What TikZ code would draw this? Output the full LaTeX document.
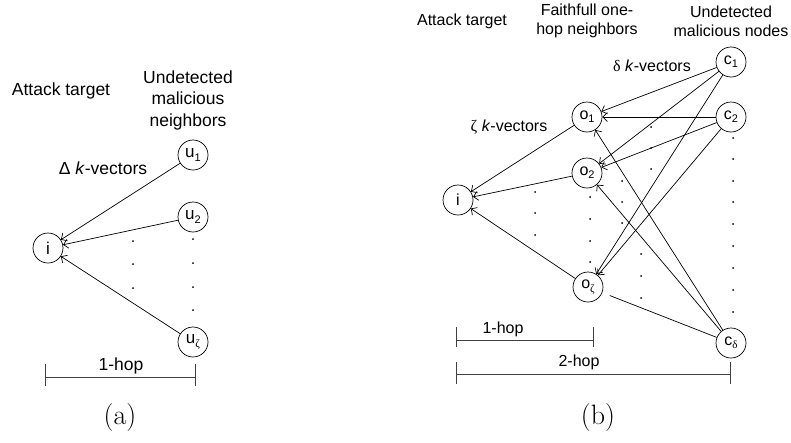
\documentclass[tikz,border=0pt]{standalone}
\usepackage{fontspec}
\newfontfamily\arial{Liberation Sans}
\newfontfamily\grk{Liberation Serif}
\usetikzlibrary{arrows.meta}
\newcommand{\lsub}[1]{\raisebox{-0.4ex}{\fontsize{11}{11}\selectfont #1}}
\begin{document}
\begin{tikzpicture}[x=1pt,y=-1pt,
  nd/.style={circle, draw, line width=0.7pt, minimum size=30pt, inner sep=0pt, font=\arial\fontsize{16}{16}\selectfont},
  nda/.style={nd, font=\arial\fontsize{17}{17}\selectfont},
  arr/.style={-{Straight Barb[length=4.5pt,width=9pt]}, line width=0.7pt},
  plainline/.style={line width=0.7pt},
  hdr/.style={align=center, inner sep=0pt, font=\arial\fontsize{16}{19}\selectfont},
  hdra/.style={align=center, inner sep=0pt, font=\arial\fontsize{17.5}{21.5}\selectfont},
  lbl/.style={inner sep=0pt, font=\arial\fontsize{16}{19}\selectfont},
  lbla/.style={inner sep=0pt, font=\arial\fontsize{17.5}{21}\selectfont},
  captext/.style={inner sep=0pt, font=\fontsize{28}{30}\selectfont},
  hopbar/.style={line width=0.8pt, black!75}]
\useasboundingbox (0,0) rectangle (791,442);

% ---------- (a) ----------
\node[hdra] (at1) at (61,91) {Attack target};
\node[hdra] (un1) at (188,100) {Undetected\\malicious\\neighbors};
\node[nda] (ia) at (48,248) {i};
\node[nda] (u1) at (193,155) {u\lsub{1}};
\node[nda] (u2) at (193,217) {u\lsub{2}};
\node[nda] (uz) at (193,342) {u\lsub{\grk ζ}};
\draw[arr] (u1) -- (ia);
\draw[arr] (u2) -- (ia);
\draw[arr] (uz) -- (ia);
\node[lbla] (kva) at (103,168) {Δ \textit{k}-vectors};
\foreach \y in {241,264,288} \fill (133,\y) circle (1pt);
\foreach \y in {239,263,287,310} \fill (193,\y) circle (1pt);
\coordinate (aL) at (45,377);
\coordinate (aR) at (195,377);
\draw[hopbar] (aL) -- (aR);
\draw[hopbar] ([yshift=13pt]aL) -- ([yshift=-9pt]aL);
\draw[hopbar] ([yshift=13pt]aR) -- ([yshift=-9pt]aR);
\node[lbla] (h1a) at (121,366) {1-hop};
\node[captext] (capa) at (120,418) {(a)};

% ---------- (b) ----------
\node[hdr] (at2) at (462,21) {Attack target};
\node[hdr] (fo) at (587,21) {Faithfull one-\\hop neighbors};
\node[hdr] (un2) at (731,21) {Undetected\\malicious nodes};
\node[nd] (ib) at (458,200) {i};
\node[nd] (o1) at (587,117) {o\lsub{1}};
\node[nd] (o2) at (587,173) {o\lsub{2}};
\node[nd] (oz) at (588,287) {o\lsub{\grk ζ}};
\node[nd] (c1) at (731,62) {c\lsub{1}};
\node[nd] (c2) at (731,117) {c\lsub{2}};
\node[nd] (cd) at (731,343) {c\lsub{\grk δ}};
\draw[arr] (o1) -- (ib);
\draw[arr] (o2) -- (ib);
\draw[arr] (oz) -- (ib);
\draw[arr] (c1) -- (o1);
\draw[arr] (c1) -- (o2);
\draw[arr] (c1) -- (oz);
\draw[arr] (c2) -- (o1);
\draw[arr] (c2) -- (o2);
\draw[arr] (c2) -- (oz);
\draw[arr] (cd) -- (o1);
\draw[arr] (cd) -- (o2);
\draw[plainline, shorten >=8pt] (cd) -- (oz);
\node[lbl] (kvz) at (509,127) {{\grk ζ} \textit{k}-vectors};
\node[lbl] (kvd) at (652,66) {{\grk δ} \textit{k}-vectors};
\foreach \y in {192,213,235} \fill (535,\y) circle (1pt);
\foreach \y in {197,219,241,262} \fill (590,\y) circle (1pt);
\foreach \y in {127,148,169} \fill (651,\y) circle (1pt);
\foreach \y in {181,202,223} \fill (622,\y) circle (1pt);
\foreach \y in {254,276,298} \fill (641,\y) circle (1pt);
\foreach \y in {138,159,181,202,224,246,268,290,312} \fill (733,\y) circle (1pt);
\coordinate (bL1) at (456,340);
\coordinate (bR1) at (593,340);
\draw[hopbar] (bL1) -- (bR1);
\draw[hopbar] ([yshift=13pt]bL1) -- ([yshift=-7pt]bL1);
\draw[hopbar] ([yshift=13pt]bR1) -- ([yshift=-7pt]bR1);
\node[lbl] (h1b) at (503,329) {1-hop};
\coordinate (bL2) at (456,374);
\coordinate (bR2) at (730,374);
\draw[hopbar] (bL2) -- (bR2);
\draw[hopbar] ([yshift=12pt]bL2) -- ([yshift=-10pt]bL2);
\draw[hopbar] ([yshift=12pt]bR2) -- ([yshift=-10pt]bR2);
\node[lbl] (h2b) at (579,362) {2-hop};
\node[captext] (capb) at (598,418) {(b)};
\end{tikzpicture}
\end{document}
